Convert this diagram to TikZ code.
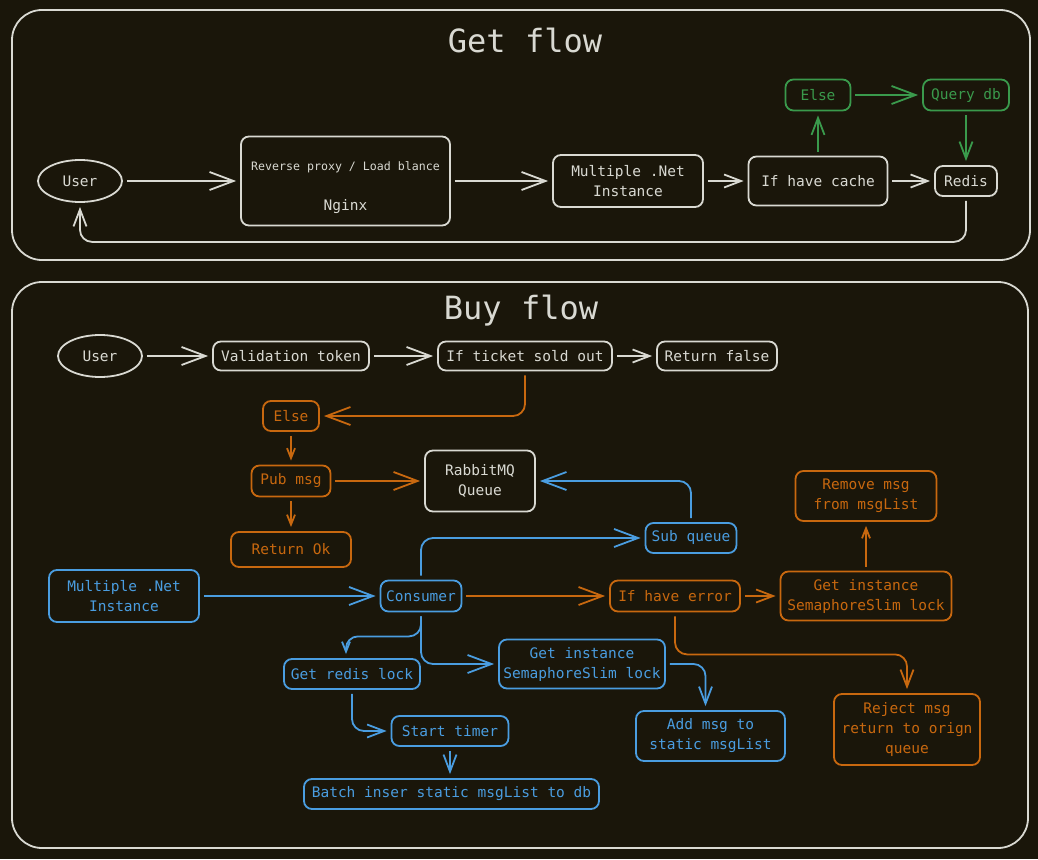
\documentclass[tikz,border=0pt]{standalone}
\usepackage{fontspec}
\setmainfont{DejaVu Sans Mono}
\usepackage{tikz}
\usetikzlibrary{arrows.meta,shapes,positioning,calc}
\usepackage{xcolor}

\definecolor{bgdark}{HTML}{1A160A}
\definecolor{fgpale}{HTML}{D9D9D2}
\definecolor{okgreen}{HTML}{3A9A4C}
\definecolor{buyorange}{HTML}{C8680F}
\definecolor{mqblue}{HTML}{4A9DE0}

\begin{document}
\begin{tikzpicture}[
    x=1pt, y=-1pt,
    every node/.style={
        font=\fontsize{14.5}{20}\selectfont,
        text=fgpale
    },
    box/.style={draw=fgpale, rounded corners=8pt, line width=1.8pt, align=center, inner sep=0pt},
    oval/.style={ellipse, draw=fgpale, line width=1.8pt, minimum width=84pt, minimum height=42pt, inner sep=0pt},
    frame/.style={draw=fgpale, rounded corners=30pt, line width=1.8pt},
    title/.style={font=\fontsize{32}{38}\selectfont},
    link/.style={draw=fgpale, line width=1.8pt, rounded corners=12pt, shorten >=4pt, shorten <=4pt},
    tip big/.style={-{Straight Barb[length=24pt,width=18pt]}},
    tip mid/.style={-{Straight Barb[length=17pt,width=13pt]}},
    tip small/.style={-{Straight Barb[length=10pt,width=8pt]}},
    col g/.style={draw=okgreen, text=okgreen},
    col o/.style={draw=buyorange, text=buyorange},
    col b/.style={draw=mqblue, text=mqblue}
]

\fill[bgdark] (0,0) rectangle (1038,859);
\useasboundingbox (0,0) rectangle (1038,859);

% ---------------- Get flow ----------------
\draw[frame] (12,10) rectangle (1030,260);
\node[title] (gtitle) at (525,40) {Get flow};

\node[oval] (guser) at (80,181) {User};
\node[box, minimum width=209pt, minimum height=89pt] (nginx) at (345.5,181)
    {{\fontsize{11.6}{14}\selectfont\rule{0pt}{23pt}Reverse proxy / Load blance}\\[20pt] Nginx};
\node[box, minimum width=150pt, minimum height=52pt] (gnet) at (628,181) {Multiple .Net\\Instance};
\node[box, minimum width=139pt, minimum height=49pt] (gcache) at (818,181) {If have cache};
\node[box, minimum width=62pt, minimum height=30pt] (gredis) at (966,181) {Redis};
\node[box, col g, minimum width=65pt, minimum height=31pt] (gelse) at (818,95) {Else};
\node[box, col g, minimum width=86pt, minimum height=31pt] (gquery) at (966,95) {Query db};

\draw[link, tip big] (guser) -- (nginx);
\draw[link, tip big] (nginx) -- (gnet);
\draw[link, tip mid] (gnet) -- (gcache);
\draw[link, tip mid] (gcache) -- (gredis);
\draw[link, tip mid, draw=okgreen] (gcache) -- (gelse);
\draw[link, tip big, draw=okgreen] (gelse) -- (gquery);
\draw[link, tip mid, draw=okgreen] (gquery) -- (gredis);
\draw[link, tip mid] (gredis.south) -- ++(0,45) -| (guser.south);

% ---------------- Buy flow ----------------
\draw[frame] (12,282) rectangle (1028,848);
\node[title] (btitle) at (521,311) {Buy flow};

\node[oval] (buser) at (100,356) {User};
\node[box, minimum width=156pt, minimum height=29pt] (valid) at (291,356) {Validation token};
\node[box, minimum width=174pt, minimum height=29pt] (ticket) at (525,356) {If ticket sold out};
\node[box, minimum width=120pt, minimum height=29pt] (retfalse) at (717,356) {Return false};
\node[box, col o, minimum width=56pt, minimum height=30pt] (belse) at (291,416) {Else};
\node[box, col o, minimum width=79pt, minimum height=31pt] (pubmsg) at (291,481) {Pub msg};
\node[box, col o, minimum width=120pt, minimum height=35pt] (retok) at (291,549.5) {Return Ok};
\node[box, minimum width=110pt, minimum height=61pt] (rabbit) at (480,481) {RabbitMQ\\Queue};
\node[box, col b, minimum width=91pt, minimum height=30pt] (subq) at (691,538) {Sub queue};
\node[box, col b, minimum width=150pt, minimum height=52pt] (bnet) at (124,596) {Multiple .Net\\Instance};
\node[box, col b, minimum width=81pt, minimum height=31pt] (consumer) at (421,596) {Consumer};
\node[box, col o, minimum width=130pt, minimum height=31pt] (iferr) at (675,596) {If have error};
\node[box, col o, minimum width=171pt, minimum height=49pt] (semerr) at (866,596) {Get instance\\SemaphoreSlim lock};
\node[box, col o, minimum width=141pt, minimum height=50pt] (remove) at (866,496) {Remove msg\\from msgList};
\node[box, col o, minimum width=146pt, minimum height=71pt] (reject) at (907,729.5) {Reject msg\\return to orign\\queue};
\node[box, col b, minimum width=136pt, minimum height=30pt] (redislock) at (352,674) {Get redis lock};
\node[box, col b, minimum width=166pt, minimum height=49pt] (sembl) at (582,664) {Get instance\\SemaphoreSlim lock};
\node[box, col b, minimum width=149pt, minimum height=50pt] (addmsg) at (710.5,736) {Add msg to\\static msgList};
\node[box, col b, minimum width=117pt, minimum height=30pt] (timer) at (450,731) {Start timer};
\node[box, col b, minimum width=295pt, minimum height=30pt] (batch) at (451.5,794) {Batch inser static msgList to db};

% main line
\draw[link, tip big] (buser) -- (valid);
\draw[link, tip big] (valid) -- (ticket);
\draw[link, tip mid] (ticket) -- (retfalse);

% orange path
\draw[link, tip big, draw=buyorange] (ticket.south) |- (belse.east);
\draw[link, tip small, draw=buyorange] (belse) -- (pubmsg);
\draw[link, tip big, draw=buyorange] (pubmsg) -- (rabbit);
\draw[link, tip small, draw=buyorange] (pubmsg) -- (retok);

% consumer side
\draw[link, tip big, draw=mqblue] (bnet) -- (consumer);
\draw[link, tip big, draw=mqblue] (consumer.north) |- (subq.west);
\draw[link, tip big, draw=mqblue] (subq.north) |- (rabbit.east);
\draw[link, tip big, draw=buyorange] (consumer) -- (iferr);
\draw[link, tip mid, draw=buyorange] (iferr) -- (semerr);
\draw[link, tip small, draw=buyorange] (semerr) -- (remove);
\draw[link, tip mid, draw=buyorange] (iferr.south) -- ++(0,42) -| (reject.north);
\draw[link, tip small, draw=mqblue] (consumer.south) -- ++(0,24) -| ([xshift=-6pt]redislock.north);
\draw[link, tip big, draw=mqblue] (consumer.south) |- (sembl.west);
\draw[link, tip mid, draw=mqblue] (redislock.south) |- (timer.west);
\draw[link, tip mid, draw=mqblue] (timer.south) -- (timer.south |- batch.north);
\draw[link, tip mid, draw=mqblue] (sembl.east) -| ([xshift=-5pt]addmsg.north);

\end{tikzpicture}
\end{document}
